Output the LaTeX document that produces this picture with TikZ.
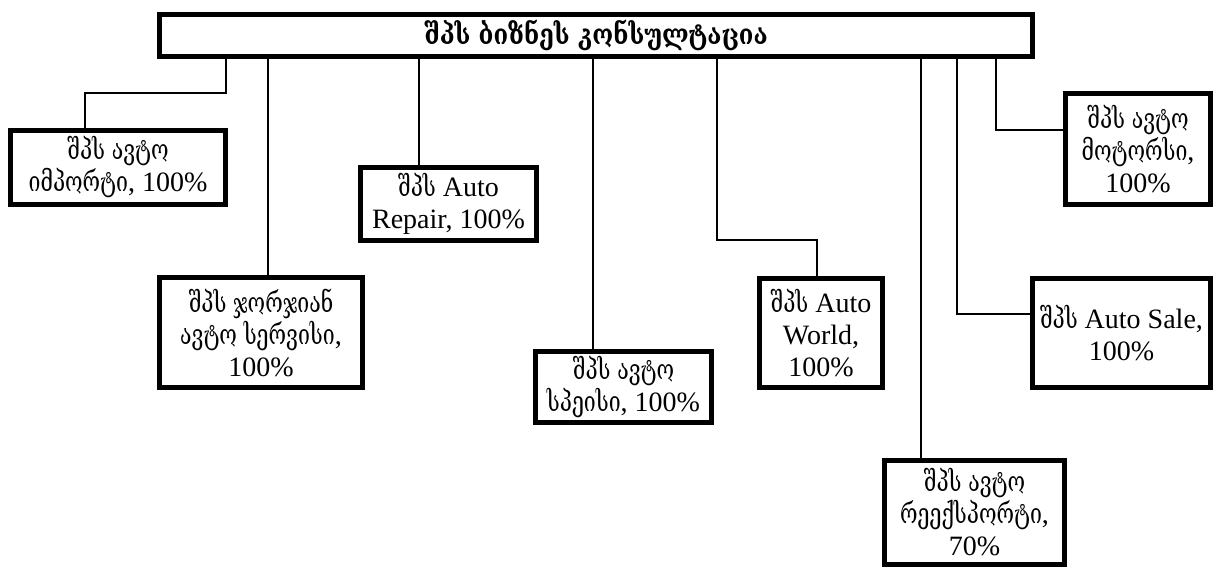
\documentclass[tikz,border=0pt]{standalone}
\usepackage{fontspec}
\setmainfont{Liberation Serif}
\newfontfamily\geo[FakeStretch=0.76]{DejaVu Serif}
\newfontfamily\geotop[FakeStretch=0.85]{DejaVu Serif}
\newcommand{\ka}[1]{{\geo #1}}
\tikzset{
  orgbox/.style={draw, line width=3.75pt, inner sep=0pt, align=center, fill=white,
    font=\fontsize{21}{24}\selectfont},
  topbox/.style={draw, line width=3.75pt, inner sep=0pt, align=center, fill=white,
    font=\fontsize{21}{24}\selectfont\geotop\bfseries},
  link/.style={draw, line width=1.6pt}
}
\begin{document}
\begin{tikzpicture}[x=0.75pt, y=-0.75pt]
\useasboundingbox (0,0) rectangle (1221,567);
\node[topbox, minimum width=654.75pt, minimum height=31.5pt] (top) at (596,35.5) {შპს ბიზნეს კონსულტაცია};
\node[orgbox, minimum width=161.25pt, minimum height=55.5pt] (b1) at (118,167.5) {\ka{შპს ავტო}\\\ka{იმპორტი}, 100\%};
\node[orgbox, minimum width=152.25pt, minimum height=82.5pt] (b2) at (261,332.5) {\ka{შპს ჯორჯიან}\\\ka{ავტო სერვისი},\\100\%};
\node[orgbox, minimum width=132pt, minimum height=54.75pt] (b3) at (448.5,204) {\ka{შპს} Auto\\Repair, 100\%};
\node[orgbox, minimum width=132pt, minimum height=53.25pt] (b4) at (623.5,387) {\ka{შპს ავტო}\\\ka{სპეისი}, 100\%};
\node[orgbox, minimum width=92.25pt, minimum height=81.75pt] (b5) at (821,333) {\ka{შპს} Auto\\World,\\100\%};
\node[orgbox, minimum width=135pt, minimum height=78pt] (b6) at (974.5,512.5) {\ka{შპს ავტო}\\\ka{რეექსპორტი},\\70\%};
\node[orgbox, minimum width=133.5pt, minimum height=81.75pt] (b7) at (1121.5,333) {\ka{შპს} Auto Sale,\\100\%};
\node[orgbox, minimum width=108.75pt, minimum height=83.25pt] (b8) at (1138,149) {\ka{შპს ავტო}\\\ka{მოტორსი},\\100\%};
\draw[link] (226,0 |- top.south) -- (226,93) -- (85,93) -- (85,0 |- b1.north);
\draw[link] (268,0 |- top.south) -- (268,0 |- b2.north);
\draw[link] (419,0 |- top.south) -- (419,0 |- b3.north);
\draw[link] (593,0 |- top.south) -- (593,0 |- b4.north);
\draw[link] (717,0 |- top.south) -- (717,240) -- (817,240) -- (817,0 |- b5.north);
\draw[link] (921,0 |- top.south) -- (921,0 |- b6.north);
\draw[link] (957,0 |- top.south) -- (957,314) -- (b7.west |- 0,314);
\draw[link] (996,0 |- top.south) -- (996,130) -- (b8.west |- 0,130);
\end{tikzpicture}
\end{document}
